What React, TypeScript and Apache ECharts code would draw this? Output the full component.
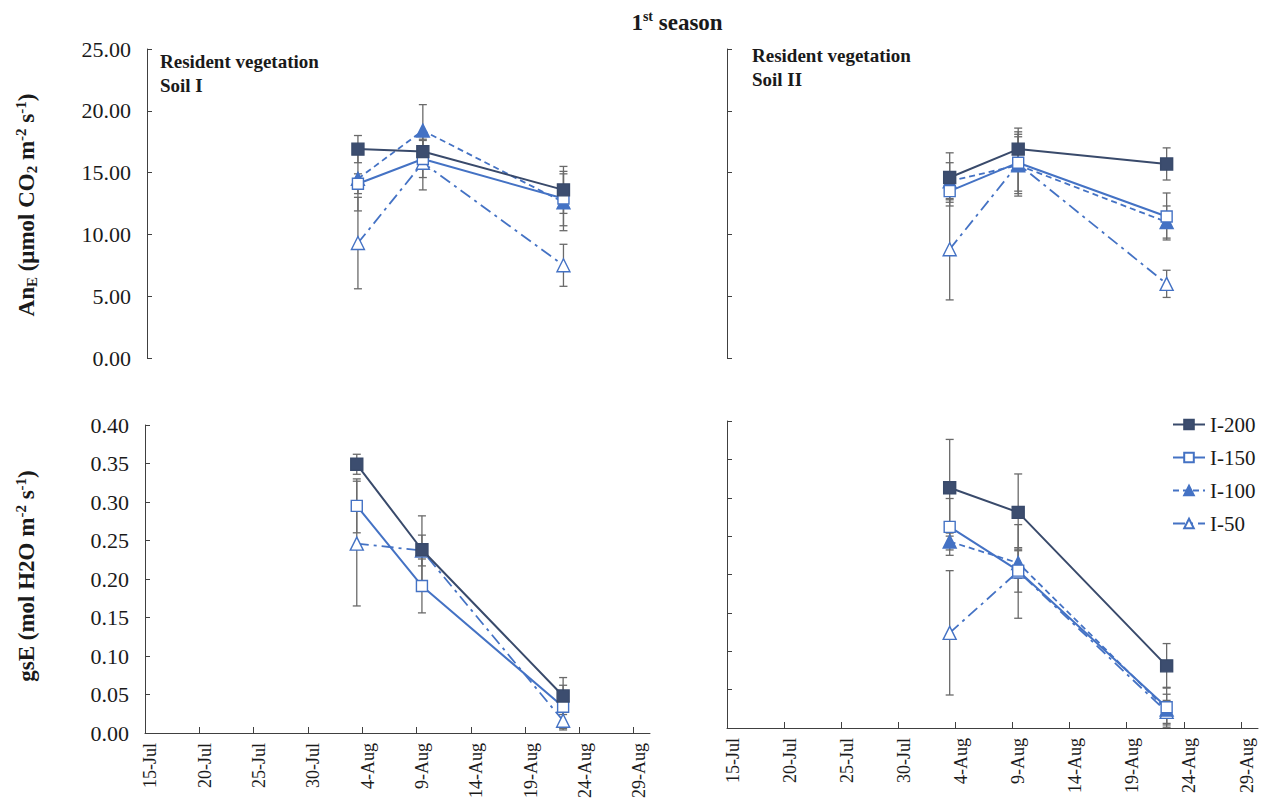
import React, { useEffect, useRef } from "react";
import * as echarts from "echarts";

// ---------- data ----------
const BASE_DATE = Date.UTC(2019, 6, 15); // 15-Jul, axis origin
const DAY_MS = 86400000;
const sampleDates = ["2019-08-03", "2019-08-09", "2019-08-22"];
const xTickLabels = ["15-Jul", "20-Jul", "25-Jul", "30-Jul", "4-Aug", "9-Aug", "14-Aug", "19-Aug", "24-Aug", "29-Aug"];
const seriesNames = ["I-200", "I-150", "I-100", "I-50"];

// AnE, Soil I
const anSoil1_I200 = [16.9, 16.7, 13.6];
const anSoil1_I150 = [14.1, 16.1, 12.9];
const anSoil1_I100 = [14.5, 18.4, 12.6];
const anSoil1_I50 = [9.3, 15.8, 7.5];
const anSoil1Err_I200 = [1.1, 1.0, 1.9];
const anSoil1Err_I150 = [0.8, 1.5, 2.2];
const anSoil1Err_I100 = [2.6, 2.1, 2.3];
const anSoil1Err_I50 = [3.7, 2.2, 1.7];

// AnE, Soil II
const anSoil2_I200 = [14.6, 16.9, 15.7];
const anSoil2_I150 = [13.5, 15.8, 11.45];
const anSoil2_I100 = [14.3, 15.6, 11.0];
const anSoil2_I50 = [8.8, 15.7, 6.0];
const anSoil2Err_I200 = [2.0, 1.7, 1.3];
const anSoil2Err_I150 = [1.2, 2.3, 1.9];
const anSoil2Err_I100 = [1.5, 2.3, 1.3];
const anSoil2Err_I50 = [4.1, 2.6, 1.1];

// gsE, Soil I (I-100 not shown)
const gsSoil1_I200 = [0.349, 0.238, 0.048];
const gsSoil1_I150 = [0.295, 0.191, 0.034];
const gsSoil1_I100: number[] = [];
const gsSoil1_I50 = [0.246, 0.237, 0.016];
const gsSoil1Err_I200 = [0.013, 0.044, 0.024];
const gsSoil1Err_I150 = [0.035, 0.035, 0.028];
const gsSoil1Err_I100: number[] = [];
const gsSoil1Err_I50 = [0.081, 0.02, 0.012];

// gsE, Soil II
const gsSoil2_I200 = [0.313, 0.281, 0.081];
const gsSoil2_I150 = [0.262, 0.205, 0.027];
const gsSoil2_I100 = [0.243, 0.215, 0.024];
const gsSoil2_I50 = [0.124, 0.204, 0.021];
const gsSoil2Err_I200 = [0.063, 0.05, 0.029];
const gsSoil2Err_I150 = [0.037, 0.028, 0.026];
const gsSoil2Err_I100 = [0.011, 0.02, 0.02];
const gsSoil2Err_I50 = [0.081, 0.061, 0.015];

const anTicks = [0, 5, 10, 15, 20, 25];
const gsTicks = [0, 0.05, 0.1, 0.15, 0.2, 0.25, 0.3, 0.35, 0.4];

// ---------- styling ----------
const FONT = "'Liberation Serif', 'Times New Roman', serif";
const TXT = "#1a1a1a";
const AXIS = "#404040";
const ERR = "#6a6a6a";
const BLUE = "#4472C4";
const NAVY = "#394A6B";

const styles: Record<string, any> = {
  "I-200": { line: NAVY, type: "solid", symbol: "rect", fill: "#3C4D6F", size: 12, width: 2 },
  "I-150": { line: BLUE, type: "solid", symbol: "rect", fill: "#ffffff", size: 11, width: 2 },
  "I-100": { line: BLUE, type: [6, 4], symbol: "triangle", fill: BLUE, size: 13, width: 1.8 },
  "I-50": { line: BLUE, type: [12, 5, 3, 5], symbol: "triangle", fill: "#ffffff", size: 13, width: 1.8 },
};

// date axis "between tick marks": each day occupies a slot, its centre is half a day after the boundary
const dayOffsets = sampleDates.map((d) => (Date.parse(d) - BASE_DATE) / DAY_MS + 0.5);
const xTickValues = xTickLabels.map((_, i) => i * 5);
const xLabelValues = xTickLabels.map((_, i) => i * 5 + 0.5);

export default function App() {
  const ref = useRef<HTMLDivElement>(null);

  useEffect(() => {
    document.body.style.margin = "0";
    if (!ref.current) return;
    const chart = echarts.init(ref.current, undefined, { renderer: "svg" });

    const panels = [
      { vals: [anSoil1_I200, anSoil1_I150, anSoil1_I100, anSoil1_I50], errs: [anSoil1Err_I200, anSoil1Err_I150, anSoil1Err_I100, anSoil1Err_I50] },
      { vals: [anSoil2_I200, anSoil2_I150, anSoil2_I100, anSoil2_I50], errs: [anSoil2Err_I200, anSoil2Err_I150, anSoil2Err_I100, anSoil2Err_I50] },
      { vals: [gsSoil1_I200, gsSoil1_I150, gsSoil1_I100, gsSoil1_I50], errs: [gsSoil1Err_I200, gsSoil1Err_I150, gsSoil1Err_I100, gsSoil1Err_I50] },
      { vals: [gsSoil2_I200, gsSoil2_I150, gsSoil2_I100, gsSoil2_I50], errs: [gsSoil2Err_I200, gsSoil2Err_I150, gsSoil2Err_I100, gsSoil2Err_I50] },
    ];

    const grids = [
      { left: 147, top: 49, width: 503, height: 309 },
      { left: 727, top: 49, width: 531, height: 309 },
      { left: 145, top: 425, width: 505, height: 308 },
      { left: 727, top: 421, width: 531, height: 307 },
    ].map((g) => ({ ...g, outerBoundsMode: "none", containLabel: false }));

    const X_MAX = 46.5;
    const xAxes = grids.map((_, i) => {
      const bottom = i >= 2;
      return {
        type: "value",
        gridIndex: i,
        min: 0,
        max: X_MAX,
        interval: 5,
        show: bottom,
        splitLine: { show: false },
        axisLine: { show: bottom, onZero: false, lineStyle: { color: AXIS, width: 1 } },
        axisTick: { show: bottom, inside: true, length: 6, lineStyle: { color: AXIS }, customValues: xTickValues },
        axisLabel: {
          show: bottom,
          rotate: 90,
          margin: 10,
          color: TXT,
          fontFamily: FONT,
          fontSize: 18,
          customValues: xLabelValues,
          formatter: (v: number) => xTickLabels[Math.floor(v / 5)] ?? "",
        },
      };
    });

    const yAxes = grids.map((_, i) => {
      const isAn = i < 2;
      const ticks = isAn ? anTicks : gsTicks;
      const showLabels = i % 2 === 0;
      return {
        type: "value",
        gridIndex: i,
        min: ticks[0],
        max: ticks[ticks.length - 1],
        interval: ticks[1] - ticks[0],
        splitLine: { show: false },
        axisLine: { show: true, lineStyle: { color: AXIS, width: 1 } },
        axisTick: { show: true, inside: true, length: 5, lineStyle: { color: AXIS } },
        axisLabel: {
          show: showLabels,
          margin: 16,
          color: TXT,
          fontFamily: FONT,
          fontSize: 22,
          formatter: (v: number) => v.toFixed(2),
        },
      };
    });

    const series: any[] = [];
    panels.forEach((p, gi) => {
      seriesNames.forEach((name, si) => {
        const st = styles[name];
        const vals = p.vals[si];
        const errs = p.errs[si];
        if (!vals.length) return;
        series.push({
          type: "custom",
          name: "err-" + name,
          xAxisIndex: gi,
          yAxisIndex: gi,
          silent: true,
          z: 1,
          encode: { x: 0, y: [1, 2] },
          data: vals.map((v, k) => [dayOffsets[k], v - errs[k], v + errs[k]]),
          renderItem: (_params: any, api: any) => {
            const x = api.value(0);
            const a = api.coord([x, api.value(1)]);
            const b = api.coord([x, api.value(2)]);
            const w = 4;
            const style = { stroke: ERR, lineWidth: 1.3 };
            return {
              type: "group",
              children: [
                { type: "line", shape: { x1: a[0], y1: a[1], x2: b[0], y2: b[1] }, style },
                { type: "line", shape: { x1: a[0] - w, y1: a[1], x2: a[0] + w, y2: a[1] }, style },
                { type: "line", shape: { x1: b[0] - w, y1: b[1], x2: b[0] + w, y2: b[1] }, style },
              ],
            };
          },
        });
        series.push({
          type: "line",
          name,
          xAxisIndex: gi,
          yAxisIndex: gi,
          z: 3 + (3 - si),
          symbol: st.symbol,
          symbolSize: st.size,
          showSymbol: true,
          lineStyle: { color: st.line, width: st.width, type: st.type },
          itemStyle: { color: st.fill, borderColor: st.line, borderWidth: 1.4, opacity: 1 },
          data: vals.map((v, k) => [dayOffsets[k], v]),
        });
      });
    });

    const mkRich = (size: number, small: number) => ({
      b: { fontFamily: FONT, fontWeight: "bold", fontSize: size, lineHeight: size + 6, fill: TXT, verticalAlign: "middle" },
      s: { fontFamily: FONT, fontWeight: "bold", fontSize: small, lineHeight: small, fill: TXT, verticalAlign: "bottom", padding: [0, 0, 1, 0] },
      p: { fontFamily: FONT, fontWeight: "bold", fontSize: small, lineHeight: small, fill: TXT, verticalAlign: "top", padding: [2, 0, 0, 0] },
    });

    const option: any = {
      animation: false,
      backgroundColor: "#ffffff",
      textStyle: { fontFamily: FONT },
      grid: grids,
      xAxis: xAxes,
      yAxis: yAxes,
      legend: {
        data: seriesNames,
        orient: "vertical",
        left: 1172,
        top: 414,
        padding: 0,
        itemWidth: 32,
        itemHeight: 12,
        itemGap: 12,
        textStyle: { fontFamily: FONT, fontSize: 21, color: TXT },
        selectedMode: false,
      },
      graphic: [
        {
          type: "text",
          x: 677,
          y: 22,
          style: {
            text: "{b|1}{p|st}{b| season}",
            align: "center",
            verticalAlign: "middle",
            rich: mkRich(23, 14),
          },
        },
        {
          type: "text",
          x: 160,
          y: 49,
          style: {
            text: "Resident vegetation\nSoil I",
            fontFamily: FONT,
            fontWeight: "bold",
            fontSize: 19,
            lineHeight: 24,
            fill: TXT,
            align: "left",
            verticalAlign: "top",
          },
        },
        {
          type: "text",
          x: 752,
          y: 43,
          style: {
            text: "Resident vegetation\nSoil II",
            fontFamily: FONT,
            fontWeight: "bold",
            fontSize: 19,
            lineHeight: 24,
            fill: TXT,
            align: "left",
            verticalAlign: "top",
          },
        },
        {
          type: "text",
          x: 26,
          y: 205,
          rotation: Math.PI / 2,
          style: {
            text: "{b|An}{s|E}{b| (μmol CO}{s|2}{b| m}{p|-2}{b| s}{p|-1}{b|)}",
            align: "center",
            verticalAlign: "middle",
            rich: mkRich(23, 15),
          },
        },
        {
          type: "text",
          x: 26,
          y: 576,
          rotation: Math.PI / 2,
          style: {
            text: "{b|gsE (mol H2O m}{p|-2}{b| s}{p|-1}{b|)}",
            align: "center",
            verticalAlign: "middle",
            rich: mkRich(23, 15),
          },
        },
      ],
      series,
    };

    chart.setOption(option);
    return () => chart.dispose();
  }, []);

  return <div ref={ref} style={{ width: 1263, height: 802 }} />;
}
